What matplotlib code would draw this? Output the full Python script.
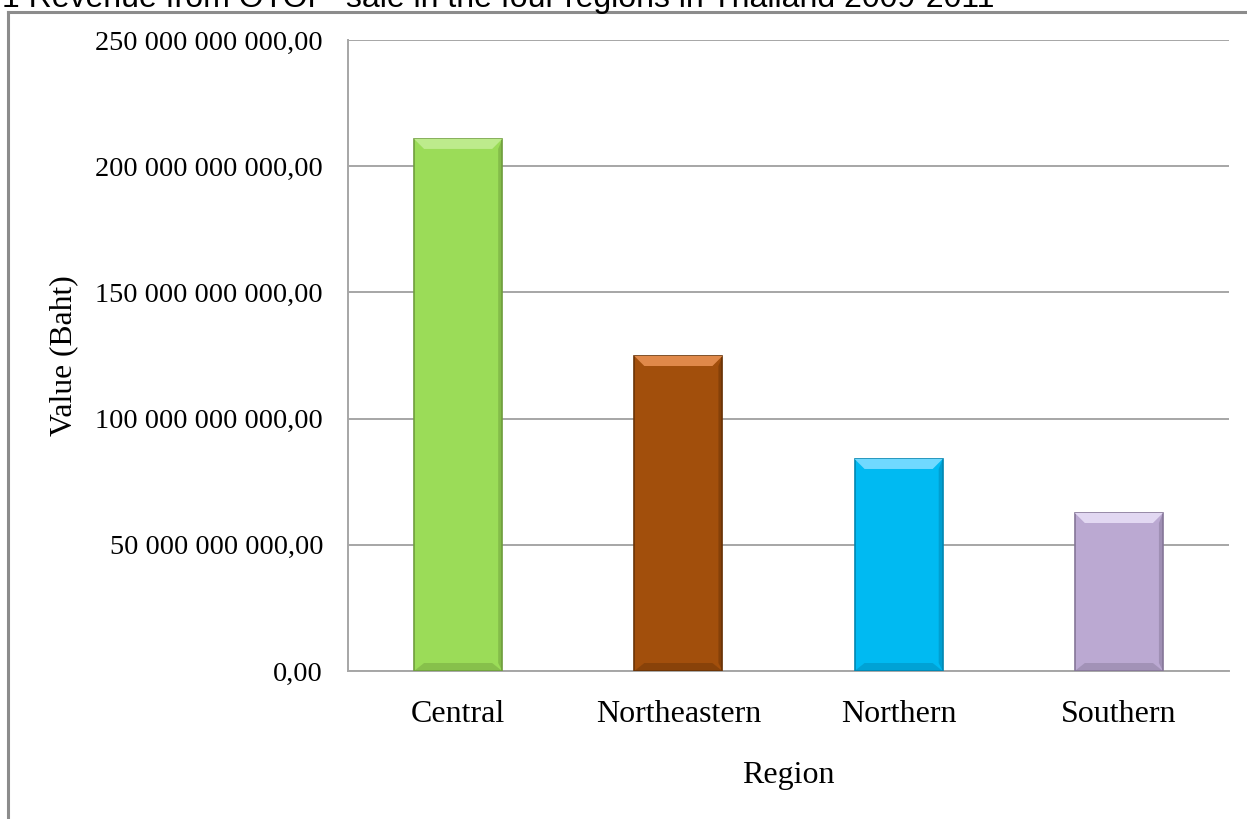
import matplotlib
matplotlib.use("Agg")
import matplotlib.pyplot as plt
from matplotlib.patches import Polygon
from matplotlib.lines import Line2D
from matplotlib.ticker import FuncFormatter

# data (Baht)
regions = ["Central", "Northeastern", "Northern", "Southern"]
revenue = [210.8e9, 124.8e9, 84.0e9, 62.6e9]
bar_colors = ["#9BDC58", "#A24F0C", "#00BAF2", "#BBA9D2"]
top_colors = ["#BDEB8C", "#E0894A", "#70D9FF", "#E2D8F2"]
edge_colors = ["#6F9E3D", "#6A3306", "#0086B2", "#857698"]
title = "1 Revenue from OTOP  sale in the four regions in Thailand 2009-2011"

W, H = 1247, 819
fig = plt.figure(figsize=(W / 100, H / 100), dpi=100)
serif = "Liberation Serif"

# outer frame (runs off the right and bottom edges)
fc = "#8C8C8C"
fig.add_artist(Line2D([8 / W, 1.01], [1 - 12 / H] * 2, color=fc, lw=2.2, transform=fig.transFigure))
fig.add_artist(Line2D([8 / W] * 2, [1 - 12 / H, -0.01], color=fc, lw=2.2, transform=fig.transFigure))

# title, clipped by the top of the picture as in the source
t = fig.text(2 / W, 1 - 7 / H, title, fontsize=20, family="Liberation Sans",
             va="baseline", ha="left")
fig.canvas.draw()
tw = t.get_window_extent().width
t.set_fontsize(20 * 990 / tw)

ax = fig.add_axes([348 / W, 1 - 671 / H, (1229 - 348) / W, (671 - 40) / H])
x = range(len(regions))
bw = 0.4
ax.bar(x, revenue, width=bw, color=bar_colors, edgecolor=edge_colors, linewidth=1.2, zorder=3)

# bevel on top, bottom and right side of each bar
ppu_y = (671 - 40) / 250e9
ppu_x = (1229 - 348) / 4
for i, (v, tc, ec) in enumerate(zip(revenue, top_colors, edge_colors)):
    x0, x1 = i - bw / 2, i + bw / 2
    dx = 10 / ppu_x
    dy = 10 / ppu_y
    ax.add_patch(Polygon([(x0, v), (x1, v), (x1 - dx, v - dy), (x0 + dx, v - dy)],
                         closed=True, color=tc, zorder=4, lw=0))
    ax.add_patch(Polygon([(x0, 0), (x1, 0), (x1 - dx, dy * 0.8), (x0 + dx, dy * 0.8)],
                         closed=True, color=ec, alpha=0.45, zorder=4, lw=0))
    ax.add_patch(Polygon([(x1, 0), (x1, v), (x1 - dx * 0.4, v - dy), (x1 - dx * 0.4, dy * 0.8)],
                         closed=True, color=ec, alpha=0.5, zorder=4, lw=0))

ax.set_xlim(-0.5, len(regions) - 0.5)
ax.set_ylim(0, 250e9)
ax.set_yticks([0, 50e9, 100e9, 150e9, 200e9, 250e9])
ax.yaxis.set_major_formatter(FuncFormatter(
    lambda v, p: f"{v:,.2f}".replace(",", " ").replace(".", ",")))
ax.set_xticks(list(x))
ax.set_xticklabels(regions)

ax.grid(axis="y", color="#A6A6A6", lw=1.4, zorder=0)
for s in ["top", "right"]:
    ax.spines[s].set_visible(False)
for s in ["left", "bottom"]:
    ax.spines[s].set_color("#A6A6A6")
    ax.spines[s].set_linewidth(1.4)
ax.tick_params(length=0)
ax.tick_params(axis="y", pad=18, labelsize=20.3)
ax.tick_params(axis="x", pad=21, labelsize=23)
for lb in ax.get_xticklabels() + ax.get_yticklabels():
    lb.set_family(serif)

ax.set_xlabel("Region", family=serif, fontsize=23, labelpad=23)
ax.set_ylabel("Value (Baht)", family=serif, fontsize=22.8)
ax.yaxis.set_label_coords(-270 / (1229 - 348), 0.5)

fig.savefig("out.png", dpi=100)
